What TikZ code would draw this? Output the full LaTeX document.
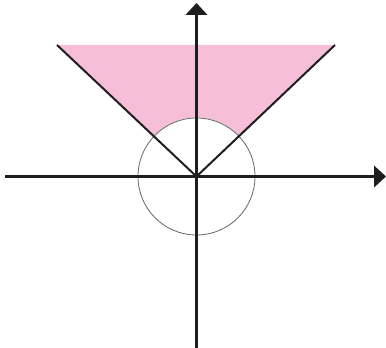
\documentclass[tikz,border=0pt]{standalone}
\usetikzlibrary{arrows.meta}
\definecolor{conepink}{RGB}{246,190,216}
\definecolor{axisblack}{RGB}{30,30,30}
\tikzset{
  axis/.style={line width=2.3pt, draw=axisblack, -{Triangle[length=9pt,width=16pt]}},
  coneline/.style={line width=1.5pt, draw=axisblack},
  unitcircle/.style={line width=0.6pt, draw=gray!80!black}
}
\begin{document}
\begin{tikzpicture}[x=0.75pt,y=-0.75pt]
\useasboundingbox (0,0) rectangle (386,348);
\coordinate (O) at (196.5,176.5);
\coordinate (L) at (57,45);
\coordinate (R) at (335,45);
\coordinate (W) at (5,176.5);
\coordinate (E) at (386,176.5);
\coordinate (S) at (196.5,348);
\coordinate (N) at (196.5,3);
\begin{scope}
  \clip (O) -- (L) -- (R) -- cycle;
  \fill[conepink, even odd rule] (O) -- (L) -- (R) -- cycle (O) circle (59);
\end{scope}
\draw[unitcircle] (O) circle (58.5);
\draw[coneline] (L) -- (O) -- (R);
\draw[axis] (W) -- (E);
\draw[axis] (S) -- (N);
\end{tikzpicture}
\end{document}
